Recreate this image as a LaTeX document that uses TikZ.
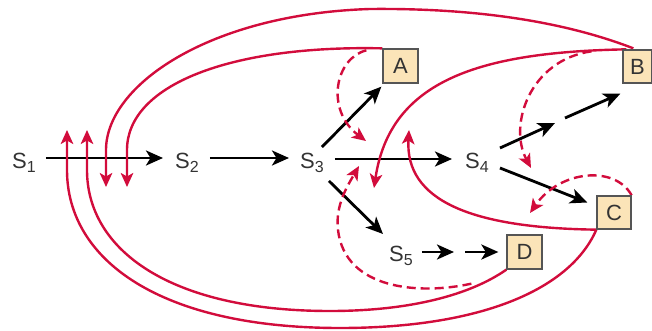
\documentclass[tikz,border=0pt]{standalone}
\usepackage{fontspec}
\setmainfont{Liberation Sans}
\usetikzlibrary{arrows.meta,calc}
\definecolor{rd}{RGB}{210,12,60}
\definecolor{bx}{RGB}{251,228,184}
\definecolor{bxline}{RGB}{85,85,85}
\definecolor{txt}{RGB}{51,51,51}
\newcommand\Ssub[1]{S\raisebox{-4pt}{\fontsize{16}{16}\selectfont #1}}
\begin{document}
\begin{tikzpicture}[x=1pt,y=-1pt,
 slab/.style={inner sep=0pt, anchor=base west, text=txt, font=\fontsize{22}{22}\selectfont},
 bxn/.style={draw=bxline, fill=bx, line width=1.3pt, inner sep=0pt, minimum width=35pt, minimum height=34pt, font=\fontsize{22}{22}\selectfont, text=txt},
 blk/.style={line width=2.8pt, -{Stealth[length=17pt,width=15pt,inset=4.5pt]}},
 rdline/.style={draw=rd, line width=2.4pt, -{Stealth[length=14pt,width=12.5pt,inset=3.5pt]}},
 rddash/.style={rdline, dash pattern=on 9pt off 5pt},
]
\useasboundingbox (0,0) rectangle (652,331);

% state labels
\node[slab] (s1) at (12,168) {\Ssub{1}};
\node[slab] (s2) at (175,168) {\Ssub{2}};
\node[slab] (s3) at (300,168) {\Ssub{3}};
\node[slab] (s4) at (465,168) {\Ssub{4}};
\node[slab] (s5) at (389,261) {\Ssub{5}};

% box positions (drawn later)
\coordinate (Ac) at (400.5,66);
\coordinate (Bc) at (637.5,66.5);
\coordinate (Cc) at (614,212.5);
\coordinate (Dc) at (524.5,252);
\path (Ac) node[bxn, draw=none, fill=none] (A) {\phantom{A}};
\path (Bc) node[bxn, draw=none, fill=none, minimum width=29pt, minimum height=33pt] (B) {\phantom{B}};
\path (Cc) node[bxn, draw=none, fill=none, minimum width=34pt, minimum height=33pt] (C) {\phantom{C}};
\path (Dc) node[bxn, draw=none, fill=none] (D) {\phantom{D}};

% free arrow tips
\coordinate (tBo) at (106,187);
\coordinate (tAi) at (127,187);
\coordinate (tCo) at (67,130);
\coordinate (tDi) at (87,130);
\coordinate (tB3) at (374,188);
\coordinate (tC3) at (409,130);
\coordinate (tAd) at (366,141);
\coordinate (tBd) at (531,168);
\coordinate (tCd) at (530,213);
\coordinate (tDd) at (359,166);
\coordinate (m1) at (555,123);
\coordinate (m2) at (565,118);
\coordinate (m3) at (454,252);
\coordinate (m4) at (465,252);

% black arrows
\draw[blk] ($(s1.base east)+(10,-10)$) -- ($(s2.base west)+(-12,-10)$);
\draw[blk] ($(s2.base east)+(11,-10)$) -- ($(s3.base west)+(-11,-10)$);
\draw[blk] ($(s3.base east)+(-2,-21)$) -- ($(A.south west)+(-1,3)$);
\draw[blk] ($(s3.base east)+(11,-9)$) -- ($(s4.base west)+(-13,-9)$);
\draw[blk] ($(s3.base east)+(5,13)$) -- ($(s5.base west)+(-6,-27)$);
\draw[blk] ($(s4.base east)+(11,-20)$) -- (m1);
\draw[blk] (m2) -- ($(B.south west)+(-2,10)$);
\draw[blk] ($(s4.base east)+(11,0)$) -- ($(C.west)+(-9,-10)$);
\draw[blk] ($(s5.base east)+(9,-9)$) -- (m3);
\draw[blk] (m4) -- ($(D.west)+(-8,0)$);

% red solid feedback curves
\draw[rdline] ($(B.north west)+(11,-1)$) .. controls (560,20) and (470,8) .. (370,9)
   .. controls (210,14) and (106,85) .. (106,150) -- (tBo);
\draw[rdline] (A.north west) .. controls (230,45) and (127,85) .. (127,150) -- (tAi);
\draw[rdline] ($(B.north west)+(4,0)$) .. controls (480,52) and (390,80) .. (tB3);
\draw[rdline] (C.south west) .. controls (470,228) and (405,200) .. (tC3);
\draw[rdline] (C.south west) .. controls (570,290) and (480,328) .. (340,328)
   .. controls (160,328) and (67,260) .. (67,170) -- (tCo);
\draw[rdline] (D.south west) .. controls (470,295) and (410,311) .. (330,311)
   .. controls (170,311) and (87,250) .. (87,170) -- (tDi);

% red dashed curves
\draw[rddash] ($(A.north west)+(-16,2)$) .. controls (335,58) and (325,110) .. (tAd);
\draw[rddash] ($(B.north west)+(-31,2)$) .. controls (530,60) and (508,125) .. (tBd);
\draw[rddash] (C.north east) .. controls (615,165) and (560,170) .. (tCd);
\draw[rddash] ($(D.south west)+(-35,14)$) .. controls (420,295) and (345,290) .. (338,230)
   .. controls (335,205) and (348,185) .. (tDd);

% boxes on top
\node[bxn] at (Ac) {A};
\node[bxn, minimum width=29pt, minimum height=33pt] at (Bc) {B};
\node[bxn, minimum width=34pt, minimum height=33pt] at (Cc) {C};
\node[bxn] at (Dc) {D};
\end{tikzpicture}
\end{document}
